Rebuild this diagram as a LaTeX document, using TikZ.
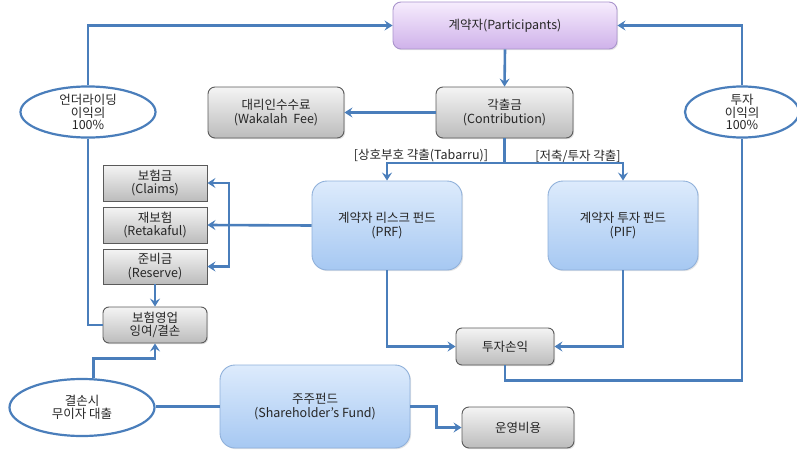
\documentclass[tikz,border=0pt]{standalone}
\usepackage{fontspec}
\setmainfont{Noto Sans CJK KR}
\usetikzlibrary{arrows.meta,shapes.geometric,shadows}
\definecolor{lineblue}{HTML}{4A7EBB}
\definecolor{graytop}{HTML}{F4F4F4}
\definecolor{graybot}{HTML}{BCBCBC}
\definecolor{grayedge}{HTML}{5A5A5A}
\definecolor{bluetop}{HTML}{DDEBFC}
\definecolor{bluebot}{HTML}{A6C8F2}
\definecolor{blueedge}{HTML}{8FB0DA}
\definecolor{purptop}{HTML}{F6ECFD}
\definecolor{purpbot}{HTML}{CFB2EA}
\definecolor{purpedge}{HTML}{A994CC}
\definecolor{txt}{HTML}{262626}
\tikzset{
  box/.style={draw=grayedge, line width=0.9pt, top color=graytop, bottom color=graybot,
    align=center, inner sep=1pt, text=txt, font=\fontsize{12.5}{13.5}\selectfont,
    drop shadow={shadow xshift=1.2pt, shadow yshift=-1.2pt, opacity=0.25}},
  rbox/.style={box, rounded corners=7pt},
  sbox/.style={box, rounded corners=0pt},
  fundbox/.style={draw=blueedge, line width=0.9pt, top color=bluetop, bottom color=bluebot,
    rounded corners=15pt, align=center, inner sep=1pt, text=txt, font=\fontsize{12.5}{13.5}\selectfont,
    drop shadow={shadow xshift=1.2pt, shadow yshift=-1.2pt, opacity=0.2}},
  partbox/.style={draw=purpedge, line width=0.9pt, top color=purptop, bottom color=purpbot,
    rounded corners=8pt, align=center, inner sep=1pt, text=txt, font=\fontsize{12.5}{13.5}\selectfont,
    drop shadow={shadow xshift=1.2pt, shadow yshift=-1.2pt, opacity=0.2}},
  oval/.style={ellipse, draw=lineblue, line width=2.2pt, fill=white, align=center,
    inner sep=0pt, text=txt, font=\fontsize{12.5}{12.8}\selectfont},
  conn/.style={draw=lineblue, line width=2.6pt},
  arr/.style={conn, -{Stealth[length=8pt,width=10pt,inset=3pt]}},
  lbl/.style={font=\fontsize{12.5}{13}\selectfont, inner sep=0pt, text=txt}
}
\begin{document}
\begin{tikzpicture}[x=1pt,y=-1pt]
\useasboundingbox (0,0) rectangle (797,452);
% nodes
\node[partbox, minimum width=224pt, minimum height=47pt] (part) at (505,25.5) {계약자(Participants)};
\node[rbox, minimum width=137pt, minimum height=51pt] (contrib) at (504.5,112.5) {각출금\\(Contribution)};
\node[rbox, minimum width=136pt, minimum height=51pt] (wak) at (276,112.5) {대리인수수료\\(Wakalah\ \ Fee)};
\node[oval, minimum width=135pt, minimum height=50pt] (uw) at (88,112) {언더라이딩\\이익의\\100\%};
\node[oval, minimum width=114pt, minimum height=50pt] (inv) at (742,112) {투자\\이익의\\100\%};
\node[fundbox, minimum width=150pt, minimum height=89pt] (prf) at (387,225.5) {계약자 리스크 펀드\\(PRF)};
\node[fundbox, minimum width=150pt, minimum height=89pt] (pif) at (623,225.5) {계약자 투자 펀드\\(PIF)};
\node[sbox, minimum width=104pt, minimum height=36pt] (claims) at (155,183) {보험금\\(Claims)};
\node[sbox, minimum width=104pt, minimum height=36pt] (reta) at (155,225) {재보험\\(Retakaful)};
\node[sbox, minimum width=104pt, minimum height=35pt] (res) at (155,266.5) {준비금\\(Reserve)};
\node[rbox, rounded corners=6pt, minimum width=104pt, minimum height=36pt] (ops) at (155,325) {보험영업\\잉여/결손};
\node[rbox, rounded corners=6pt, minimum width=98pt, minimum height=37pt] (tuja) at (505,346.5) {투자손익};
\node[oval, minimum width=145pt, minimum height=57pt] (def) at (82,407.5) {결손시\\무이자 대출};
\node[fundbox, minimum width=190pt, minimum height=83pt] (sf) at (315,406.5) {주주펀드\\(Shareholder's Fund)};
\node[rbox, minimum width=112pt, minimum height=41pt] (cost) at (518,427.5) {운영비용};
\node[lbl] (lt) at (421,156) {[상호부호 갹출(Tabarru)]};
\node[lbl] (lp) at (578,156) {[저축/투자 갹출]};
% connectors
\coordinate (split) at (504.5,163);
\coordinate (bus) at (229,225);
\draw[arr] (uw.north) |- (part.west);
\draw[conn] (uw.south) |- (ops.west);
\draw[arr] (inv.north) |- (part.east);
\draw[conn] (tuja.south) -- ++(0,15) -| (inv.south);
\draw[arr] (part.south) -- (contrib.north);
\draw[arr] (contrib.west) -- (wak.east);
\draw[conn] (contrib.south) -- (split);
\draw[arr] (split) -| (prf.north);
\draw[arr] (split) -| (pif.north);
\draw[arr] (prf.west) -- (reta.east);
\draw[arr] (bus) |- (claims.east);
\draw[arr] (bus) |- (res.east);
\draw[arr] (res.south) -- (ops.north);
\draw[arr] (def.69) -- ++(0,-20) -| (ops.south);
\draw[conn] (sf.west -| def.east) -- (sf.west);
\draw[arr] (sf.east) -- ++(26,0) |- (cost.west);
\draw[arr] (prf.south) |- (tuja.west);
\draw[arr] (pif.south) |- (tuja.east);
\end{tikzpicture}
\end{document}
